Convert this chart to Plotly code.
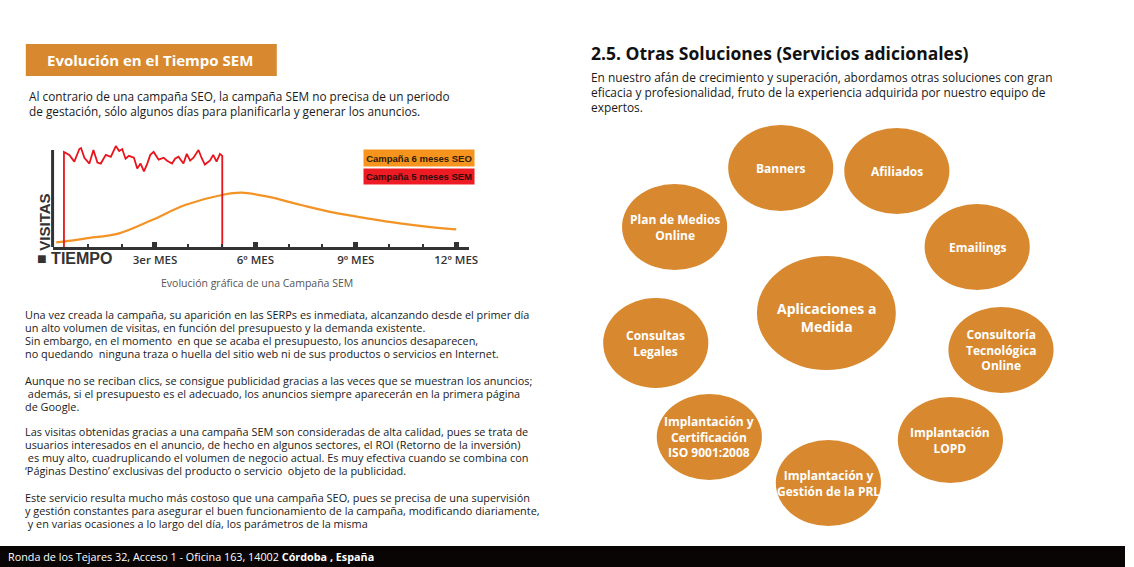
import plotly.graph_objects as go

W, H = 1134, 567

# --- datos del gráfico (meses, visitas) ---
sem_mes = [0.28, 0.28, 0.44, 0.59, 0.74, 0.79, 0.89, 1.04, 1.16, 1.28, 1.38, 1.53, 1.68,
           1.83, 1.93, 2.02, 2.12, 2.22, 2.37, 2.47, 2.57, 2.67, 2.77, 2.86, 2.96, 3.11,
           3.26, 3.36, 3.51, 3.60, 3.70, 3.85, 3.95, 4.05, 4.15, 4.30, 4.39, 4.49, 4.64,
           4.74, 4.84, 4.94, 5.01, 5.01]
sem_visitas = [0, 98, 95, 88, 101, 102, 92, 86, 100, 87, 86, 95, 93,
               104, 99, 101, 91, 94, 92, 81, 86, 78, 86, 95, 98, 90,
               92, 89, 86, 91, 93, 86, 96, 89, 92, 100, 92, 85, 89,
               95, 88, 96, 94, 0]
seo_mes = [0.05, 0.5, 0.94, 1.93, 2.91, 3.9, 5.0, 5.58, 6.37, 7.36, 8.35, 9.33, 10.32, 11.31, 12.0]
seo_visitas = [4.8, 6.5, 8.9, 14.1, 27.8, 43.3, 53.6, 56, 51.9, 43.3, 35.4, 29.6, 24.4, 20.3, 18.2]

tick_meses = [3, 6, 9, 12]
tick_textos = ["3er MES", "6º MES", "9º MES", "12º MES"]
minor_meses = [1, 2, 4, 5, 7, 8, 10, 11]

# --- servicios (burbujas) ---
servicios = ["Banners", "Afiliados", "Plan de Medios<br>Online", "Emailings",
             "Aplicaciones a<br>Medida", "Consultas<br>Legales",
             "Consultoría<br>Tecnológica<br>Online", "Implantación y<br>Certificación<br>ISO 9001:2008",
             "Implantación<br>LOPD", "Implantación y<br>Gestión de la PRL"]
# posición en píxeles (centro x, centro y, radio x, radio y)
burbujas = [(787, 168, 53, 43), (904, 171, 53, 43), (680, 227, 53, 43), (985, 247, 53, 43),
            (833, 313, 70, 57), (661, 343, 53, 45), (1009, 350, 53, 43), (715, 437, 53, 43),
            (958, 440, 53, 43), (835, 483, 53, 43)]

# --- textos ---
parrafos = [
    ["Una vez creada la campaña, su aparición en las SERPs es inmediata, alcanzando desde el primer día",
     "un alto volumen de visitas, en función del presupuesto y la demanda existente.",
     "Sin embargo, en el momento  en que se acaba el presupuesto, los anuncios desaparecen,",
     "no quedando  ninguna traza o huella del sitio web ni de sus productos o servicios en Internet."],
    ["Aunque no se reciban clics, se consigue publicidad gracias a las veces que se muestran los anuncios;",
     " además, si el presupuesto es el adecuado, los anuncios siempre aparecerán en la primera página",
     "de Google."],
    ["Las visitas obtenidas gracias a una campaña SEM son consideradas de alta calidad, pues se trata de",
     "usuarios interesados en el anuncio, de hecho en algunos sectores, el ROI (Retorno de la inversión)",
     " es muy alto, cuadruplicando el volumen de negocio actual. Es muy efectiva cuando se combina con",
     "‘Páginas Destino’ exclusivas del producto o servicio  objeto de la publicidad."],
    ["Este servicio resulta mucho más costoso que una campaña SEO, pues se precisa de una supervisión",
     "y gestión constantes para asegurar el buen funcionamiento de la campaña, modificando diariamente,",
     " y en varias ocasiones a lo largo del día, los parámetros de la misma"],
]
inicio_parrafos = [314, 380, 431, 497]

NARANJA = "#D8892F"
FUENTE = "Open Sans"
ESTRECHA = "Liberation Sans Narrow, Liberation Sans"


def px(x):
    return x / W


def py(y):
    return 1 - y / H


fig = go.Figure()
fig.add_trace(go.Scatter(x=seo_mes, y=seo_visitas, mode="lines", line=dict(color="#F39325", width=2.2, shape="spline"),
                         hoverinfo="skip"))
fig.add_trace(go.Scatter(x=sem_mes, y=sem_visitas, mode="lines", line=dict(color="#E8141B", width=1.8),
                         hoverinfo="skip"))

shapes = []
anns = []

# eje Y (línea)
shapes.append(dict(type="line", xref="x domain", yref="y", x0=0, x1=0, y0=0, y1=100,
                   line=dict(color="#333333", width=3)))

# caja título izquierda
shapes.append(dict(type="rect", xref="paper", yref="paper", x0=px(26), x1=px(279), y0=py(76), y1=py(44),
                   fillcolor=NARANJA, line=dict(width=0)))
anns.append(dict(text="<b>Evolución en el Tiempo SEM</b>", x=px(151), y=py(60), font=dict(size=15, color="white")))

for i, t in enumerate(["Al contrario de una campaña SEO, la campaña SEM no precisa de un periodo",
                       "de gestación, sólo algunos días para planificarla y generar los anuncios."]):
    anns.append(dict(text=t, x=px(27), y=py(96 + 15 * i), xanchor="left",
                     font=dict(size=11.8, color="#1a1a1a")))

# textos del gráfico
anns.append(dict(text="<b>■ TIEMPO</b>", x=px(35), y=py(258), xanchor="left",
                 font=dict(size=16, color="#333333", family=ESTRECHA)))
anns.append(dict(text="<b>VISITAS</b>", x=px(44), y=py(222), textangle=-90,
                 font=dict(size=15, color="#333333", family=ESTRECHA)))
anns.append(dict(text="<b>Campaña 6 meses SEO</b>", x=px(422), y=py(158), width=108, height=14, bgcolor="#F7941D",
                 font=dict(size=9.5, color="#2a1a0a", family=ESTRECHA)))
anns.append(dict(text="<b>Campaña 5 meses SEM</b>", x=px(422), y=py(176.5), width=108, height=13, bgcolor="#ED1C24",
                 font=dict(size=9.5, color="#2a0a0a", family=ESTRECHA)))
anns.append(dict(text="Evolución gráfica de una Campaña SEM", x=px(259), y=py(283),
                 font=dict(size=10.5, color="#555555")))

# párrafos izquierda, línea a línea
for y0, lineas in zip(inicio_parrafos, parrafos):
    for i, t in enumerate(lineas):
        anns.append(dict(text=t, x=px(23), y=py(y0 + 13.3 * i), xanchor="left",
                         font=dict(size=10.9, color="#1a1a1a")))

# pie de página
shapes.append(dict(type="rect", xref="paper", yref="paper", x0=0, x1=1, y0=0, y1=py(546),
                   fillcolor="#0a0505", line=dict(width=0)))
anns.append(dict(text="Ronda de los Tejares 32, Acceso 1 - Oficina 163, 14002 <b>Córdoba , España</b>",
                 x=px(6), y=py(556), xanchor="left", font=dict(size=10.8, color="white")))

# derecha
anns.append(dict(text="<b>2.5. Otras Soluciones (Servicios adicionales)</b>", x=px(594), y=py(53), xanchor="left",
                 font=dict(size=17.5, color="#111111")))
for i, t in enumerate(["En nuestro afán de crecimiento y superación, abordamos otras soluciones con gran",
                       "eficacia y profesionalidad, fruto de la experiencia adquirida por nuestro equipo de",
                       "expertos."]):
    anns.append(dict(text=t, x=px(594), y=py(77 + 15 * i), xanchor="left",
                     font=dict(size=11.9, color="#1a1a1a")))

for nombre, (cx, cy, rx, ry) in zip(servicios, burbujas):
    shapes.append(dict(type="circle", xref="paper", yref="paper", x0=px(cx - rx), x1=px(cx + rx),
                       y0=py(cy + ry), y1=py(cy - ry), fillcolor=NARANJA, line=dict(width=0)))
    grande = rx > 60
    anns.append(dict(text="<b>" + nombre + "</b>", x=px(cx), y=py(cy + (4 if grande else 0)),
                     font=dict(size=14 if grande else 12, color="white")))

for a in anns:
    a.setdefault("xref", "paper")
    a.setdefault("yref", "paper")
    a.setdefault("xanchor", "center")
    a.setdefault("yanchor", "middle")
    a["showarrow"] = False

fig.update_layout(
    width=W, height=H, autosize=False, margin=dict(l=0, r=0, t=0, b=0, pad=0),
    paper_bgcolor="white", plot_bgcolor="rgba(0,0,0,0)",
    font=dict(family=FUENTE),
    showlegend=False,
    shapes=shapes, annotations=anns,
    xaxis=dict(domain=[px(53), px(473)], range=[-0.06, 12.39], showgrid=False, zeroline=False,
               showline=True, linecolor="#333333", linewidth=3,
               tickmode="array", tickvals=tick_meses, ticktext=tick_textos,
               ticks="inside", ticklen=5, tickwidth=5, tickcolor="#333333",
               tickfont=dict(size=11.5, color="#333333", family=FUENTE, weight=600),
               minor=dict(tickmode="array", tickvals=minor_meses, ticks="inside", ticklen=3, tickwidth=2,
                          tickcolor="#333333", showgrid=False),
               fixedrange=True),
    yaxis=dict(domain=[py(247), py(140)], range=[0, 110.3], visible=False, fixedrange=True),
)

fig.write_html("out.html", config={"displayModeBar": False, "responsive": False},
               post_script="document.documentElement.style.overflow='hidden';"
                           "document.body.style.margin='0';document.body.style.overflow='hidden';")
